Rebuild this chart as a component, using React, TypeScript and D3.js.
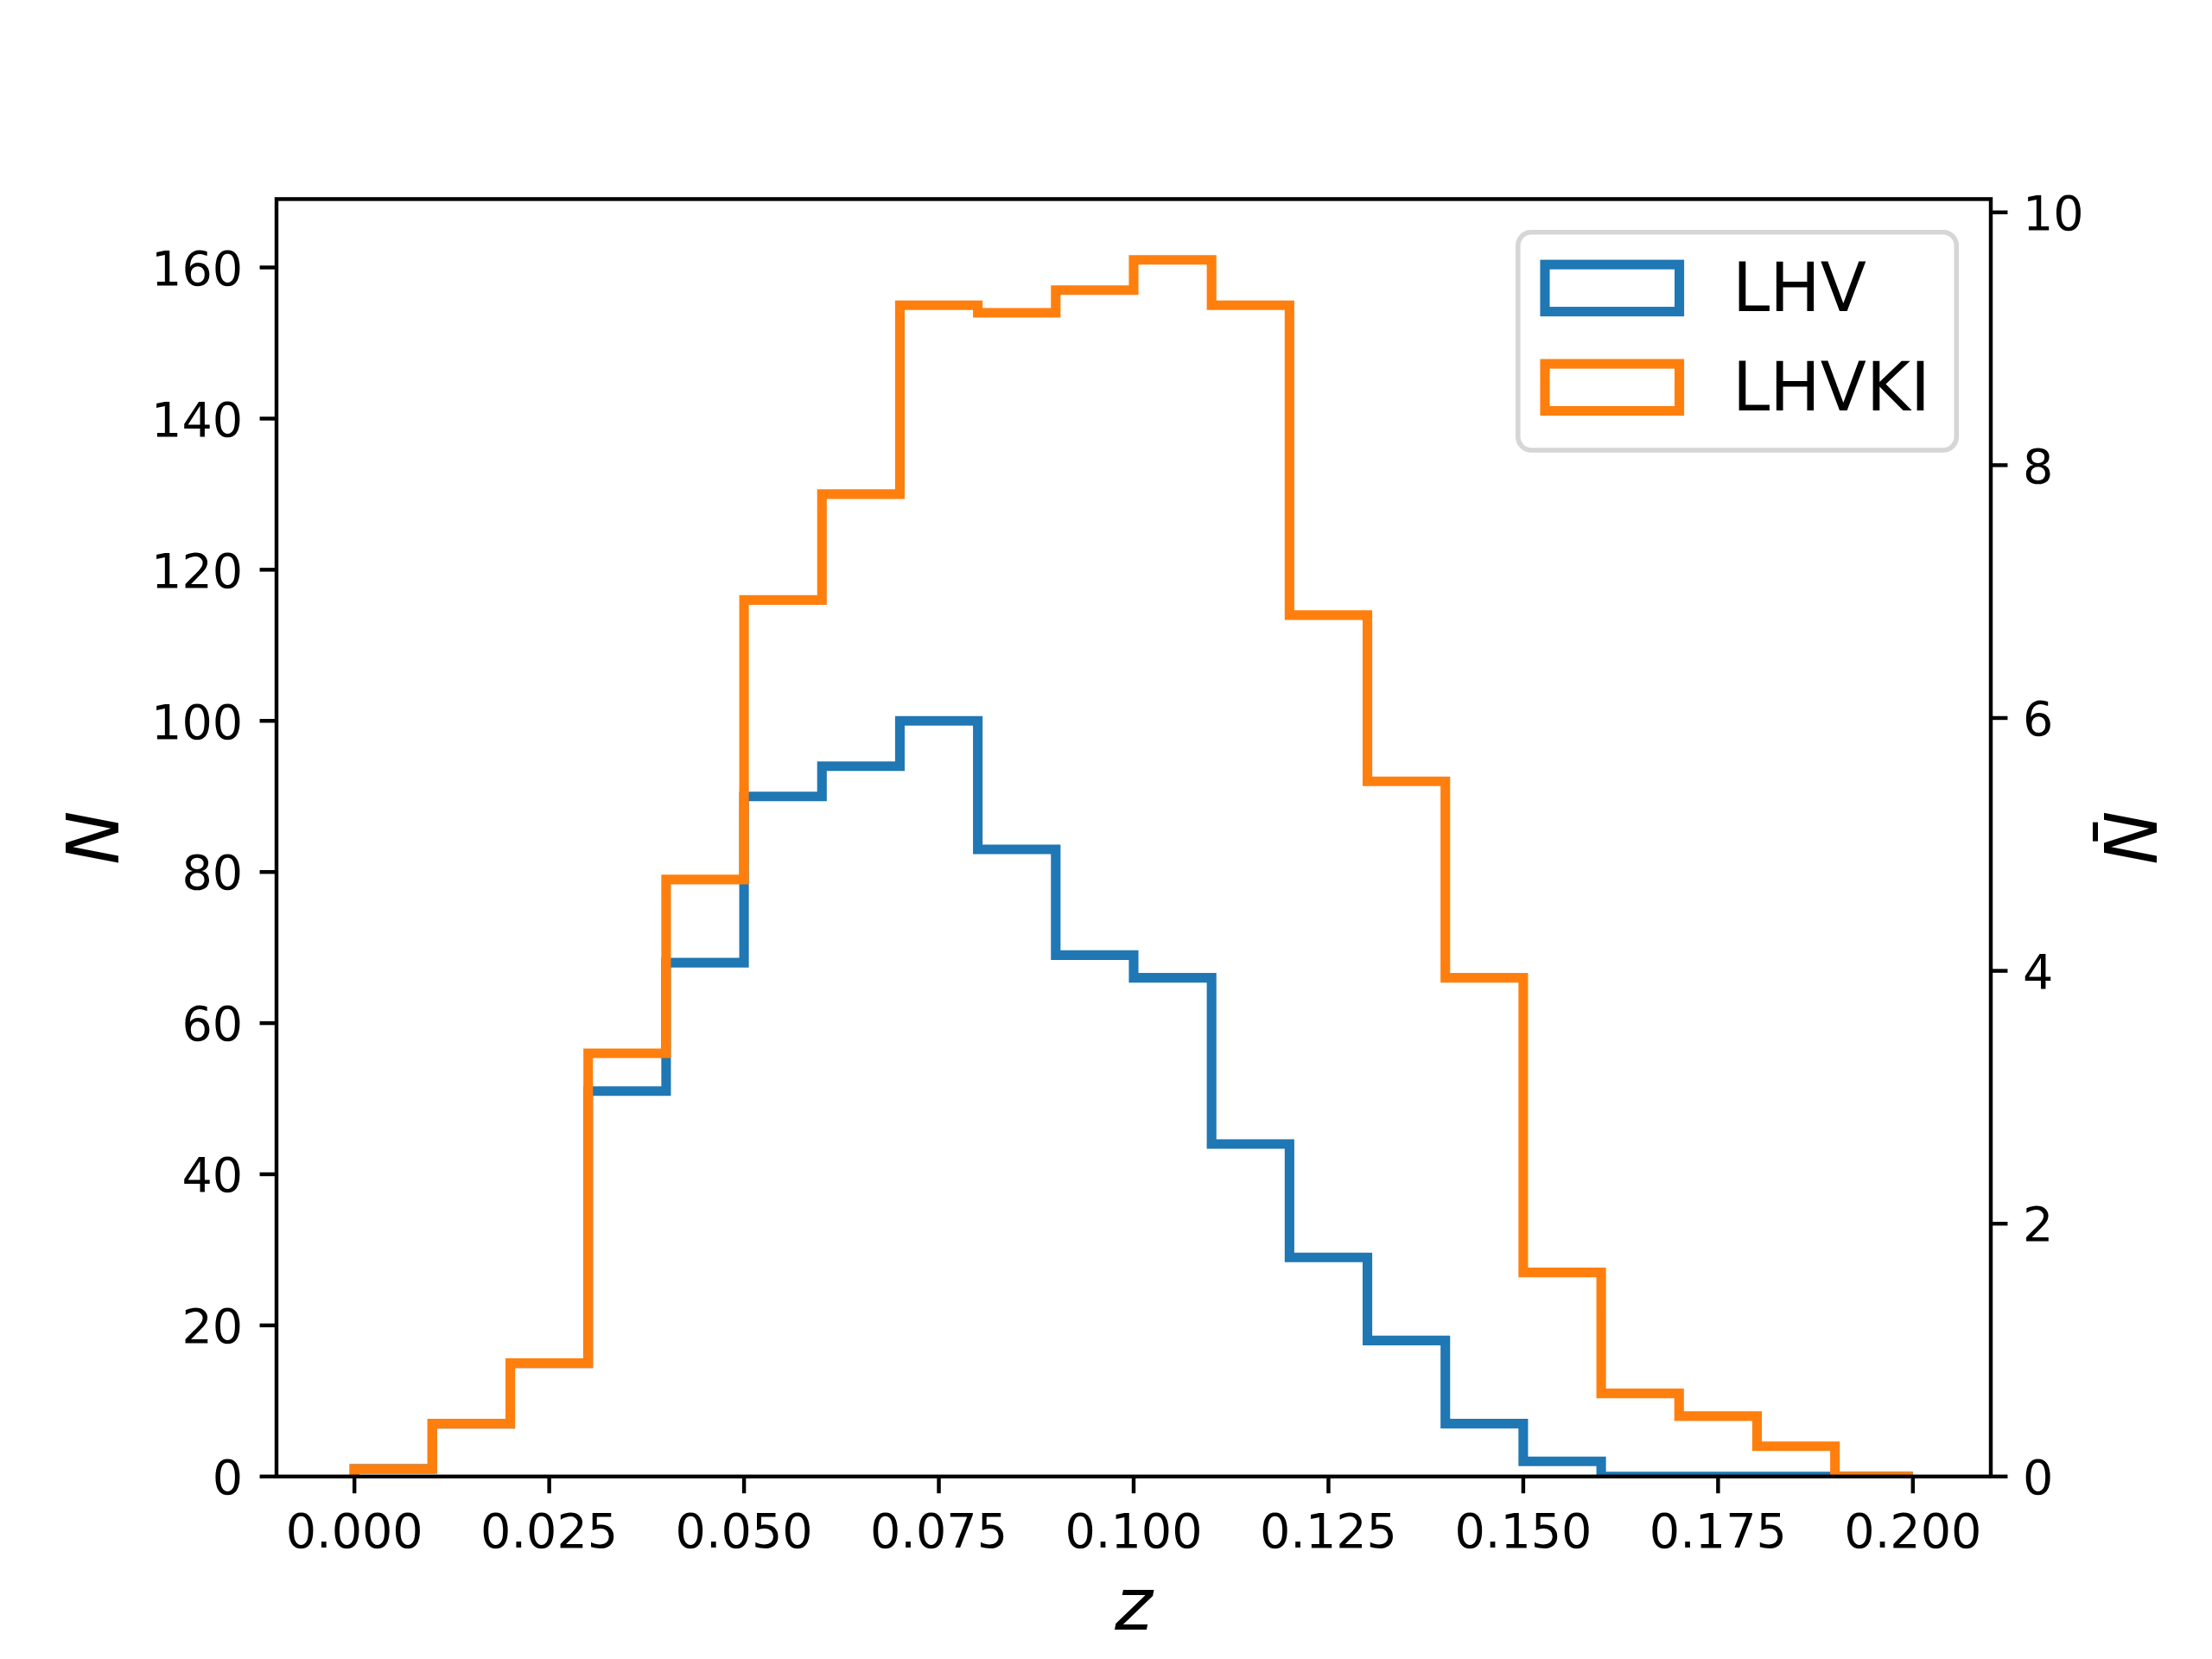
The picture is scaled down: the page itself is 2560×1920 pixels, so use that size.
import * as d3 from 'd3'

// histogram bins (z) and counts
const binEdges = [0, 0.01, 0.02, 0.03, 0.04, 0.05, 0.06, 0.07, 0.08, 0.09, 0.1,
    0.11, 0.12, 0.13, 0.14, 0.15, 0.16, 0.17, 0.18, 0.19, 0.2]
const lhvCounts = [1, 7, 15, 51, 68, 90, 94, 100, 83, 69, 66, 44, 29, 18, 7, 2, 0, 0, 0, 0]
const lhvkiCounts = [1, 7, 15, 56, 79, 116, 130, 155, 154, 157, 161, 155, 114, 92, 66, 27, 11, 8, 4, 0]
const seriesNames = ['LHV', 'LHVKI']
const seriesColors = ['#1f77b4', '#ff7f0e']
const xTicks = [0, 0.025, 0.05, 0.075, 0.1, 0.125, 0.15, 0.175, 0.2]
const yTicks = [0, 20, 40, 60, 80, 100, 120, 140, 160]
const y2Ticks = [0, 2, 4, 6, 8, 10]

const W = 2560, H = 1920
const left = 320, right = 2304, top = 230.4, bottom = 1708.8
const pt = 400 / 72
const tickFont = 10 * pt
const labelFont = 15 * pt
const legendFont = 14 * pt
const tickLen = 3.5 * pt
const font = 'DejaVu Sans'

function App() {
    const x = d3.scaleLinear().domain([-0.01, 0.21]).range([left, right])
    const y = d3.scaleLinear().domain([0, 169.05]).range([bottom, top])
    const y2 = d3.scaleLinear().domain([0, 10.105]).range([bottom, top])

    const line = d3.line<[number, number]>().x(d => x(d[0])).y(d => y(d[1]))

    const stepPath = (counts: number[]) => {
        const pts: [number, number][] = [[binEdges[0], 0]]
        counts.forEach((c, i) => {
            pts.push([binEdges[i], c])
            pts.push([binEdges[i + 1], c])
        })
        pts.push([binEdges[binEdges.length - 1], 0])
        return line(pts) ?? ''
    }

    const series = [lhvCounts, lhvkiCounts]
    const fmt = d3.format('.3f')

    // legend geometry
    const legX0 = 1756.8, legX1 = 2264.3, legY0 = 268.7, legY1 = 521
    const handleX0 = 1788, handleW = 2 * legendFont, handleH = 0.7 * legendFont
    const rowCenters = [333.4, 448.3]
    const rowBaselines = [360, 475]

    return (
        <svg width={W} height={H} viewBox={`0 0 ${W} ${H}`}
            style={{ position: 'absolute', left: 0, top: 0, background: '#fff' }}>
            <defs>
                <clipPath id="axclip">
                    <rect x={left} y={top} width={right - left} height={bottom - top} />
                </clipPath>
            </defs>
            <rect x={0} y={0} width={W} height={H} fill="#fff" />

            <g clipPath="url(#axclip)">
                {series.map((s, i) => (
                    <path key={i} d={stepPath(s)} fill="none" stroke={seriesColors[i]}
                        strokeWidth={2 * pt} strokeLinejoin="miter" strokeLinecap="butt" />
                ))}
            </g>

            {/* spines */}
            <rect x={left} y={top} width={right - left} height={bottom - top}
                fill="none" stroke="#000" strokeWidth={0.8 * pt} strokeLinejoin="miter" />

            {/* x ticks */}
            <g fontFamily={font} fontSize={tickFont} fill="#000">
                {xTicks.map(t => (
                    <g key={t}>
                        <line x1={x(t)} x2={x(t)} y1={bottom} y2={bottom + tickLen} stroke="#000" strokeWidth={0.8 * pt} />
                        <text x={x(t)} y={1790.7} textAnchor="middle">{fmt(t)}</text>
                    </g>
                ))}
            </g>

            {/* left y ticks */}
            <g fontFamily={font} fontSize={tickFont} fill="#000">
                {yTicks.map(t => (
                    <g key={t}>
                        <line x1={left - tickLen} x2={left} y1={y(t)} y2={y(t)} stroke="#000" strokeWidth={0.8 * pt} />
                        <text x={left - tickLen - 3.5 * pt} y={y(t) + 20.3} textAnchor="end">{t}</text>
                    </g>
                ))}
            </g>

            {/* right y ticks */}
            <g fontFamily={font} fontSize={tickFont} fill="#000">
                {y2Ticks.map(t => (
                    <g key={t}>
                        <line x1={right} x2={right + tickLen} y1={y2(t)} y2={y2(t)} stroke="#000" strokeWidth={0.8 * pt} />
                        <text x={right + tickLen + 3.5 * pt - 2} y={y2(t) + 20.3} textAnchor="start">{t}</text>
                    </g>
                ))}
            </g>

            {/* axis labels */}
            <text x={(left + right) / 2} y={1886} textAnchor="middle" fontFamily={font}
                fontStyle="oblique" fontSize={labelFont}>z</text>
            <g transform={`translate(137, ${(top + bottom) / 2}) rotate(-90)`}>
                <text x={0} y={0} textAnchor="middle" fontFamily={font} fontStyle="oblique" fontSize={labelFont}>N</text>
            </g>
            <g transform={`translate(2496, ${(top + bottom) / 2}) rotate(-90)`}>
                <text x={0} y={0} textAnchor="middle" fontFamily={font} fontStyle="oblique" fontSize={labelFont}>N</text>
                <line x1={-4} x2={18} y1={-71} y2={-71} stroke="#000" strokeWidth={6} />
            </g>

            {/* legend */}
            <rect x={legX0} y={legY0} width={legX1 - legX0} height={legY1 - legY0} rx={15.5} ry={15.5}
                fill="#fff" fillOpacity={0.8} stroke="#d6d6d6" strokeWidth={1 * pt} />
            {seriesNames.map((name, i) => (
                <g key={name}>
                    <rect x={handleX0} y={rowCenters[i] - handleH / 2} width={handleW} height={handleH}
                        fill="none" stroke={seriesColors[i]} strokeWidth={2 * pt} />
                    <text x={2005} y={rowBaselines[i]} fontFamily={font} fontSize={legendFont} fill="#000">{name}</text>
                </g>
            ))}
        </svg>
    )
}

export default App
